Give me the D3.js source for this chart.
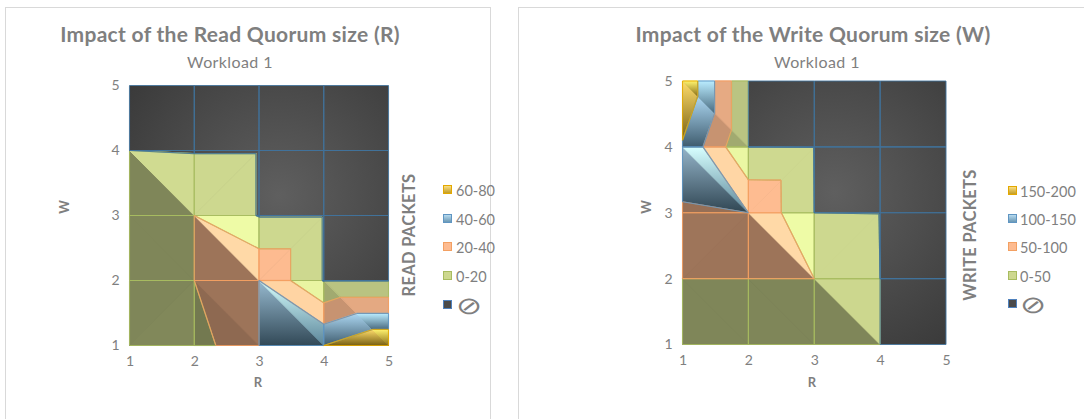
<!DOCTYPE html>
<html>
<head>
<meta charset="utf-8">
<script src="https://cdn.jsdelivr.net/npm/d3@7"></script>
<style>
  body { margin: 0; background: #ffffff; }
  svg { display: block; }
  text { font-family: Lato, "Open Sans", sans-serif; }
</style>
</head>
<body>
<svg id="chart" width="1084" height="419"></svg>
<script>
// ---- data -------------------------------------------------------------
// Quorum sizes on both axes (R horizontally, W vertically)
const quorumSizes = [1, 2, 3, 4, 5];

// Read packets, one row per W (1..5), one column per R (1..5).
// null = configuration not available (drawn as the "⊘" band)
const readPackets = [
  [0, 10, 40, 60, 80],
  [0, 20, 40, null, null],
  [0, 20, null, null, null],
  [0, null, null, null, null],
  [null, null, null, null, null]
];

// Write packets, same layout
const writePackets = [
  [0, 0, 0, 0, null],
  [50, 50, 50, 0, null],
  [91, 100, 0, null, null],
  [145, 0, null, null, null],
  [195, 0, null, null, null]
];

const readBreaks = [0, 20, 40, 60, 80];
const writeBreaks = [0, 50, 100, 150, 200];
const readBandLabels = ["0-20", "20-40", "40-60", "60-80"];
const writeBandLabels = ["0-50", "50-100", "100-150", "150-200"];
const unavailableLabel = "\u2298";

// ---- styling ----------------------------------------------------------
const UNAVAILABLE = -1;              // surface height used for missing cells
const LIGHT = [0.511, 0.511, 0.69];  // light direction (R, W, up)
const bandFills = ["#cdd88f", "#fdbb90", "#86c4ea", "#ffcc2a"];
const bandStrokes = ["#a8bc60", "#f3a062", "#5f95c2", "#e3a800"];
const gradientBands = [false, false, true, true];
const naStroke = "#41739c";
const textGray = "#7f7f7f";

const svg = d3.select("#chart");
const defs = svg.append("defs");

function shadeFactor(dot) {
  const d = Math.max(0, Math.min(1, dot));
  return 0.574 - 0.207 * d + 0.8345 * d * d;
}
function scaleColor(hex, k) {
  const c = d3.rgb(hex);
  return d3.rgb(Math.min(255, c.r * k), Math.min(255, c.g * k), Math.min(255, c.b * k)).formatHex();
}
function mixWhite(hex, t) {
  return d3.interpolateRgb(hex, "#ffffff")(t);
}
// Sutherland-Hodgman clip of a polygon against f(p) >= 0, interpolating values
function clip(poly, f) {
  const out = [];
  for (let i = 0; i < poly.length; i++) {
    const p = poly[i], q = poly[(i + 1) % poly.length];
    const fp = f(p), fq = f(q);
    if (fp >= 0) out.push(p);
    if ((fp > 0 && fq < 0) || (fp < 0 && fq > 0)) {
      const t = fp / (fp - fq);
      out.push({ x: p.x + t * (q.x - p.x), y: p.y + t * (q.y - p.y), v: p.v + t * (q.v - p.v) });
    }
  }
  return out;
}
function area(poly) {
  let s = 0;
  for (let i = 0; i < poly.length; i++) {
    const p = poly[i], q = poly[(i + 1) % poly.length];
    s += p.x * q.y - q.x * p.y;
  }
  return s / 2;
}
function onLine(p, a, b) {
  return Math.abs((b.x - a.x) * (p.y - a.y) - (b.y - a.y) * (p.x - a.x)) < 1e-6;
}

let gradCount = 0;

function drawChart(cfg) {
  const g = svg.append("g");
  const P = cfg.plot;

  g.append("rect")
    .attr("x", cfg.frame.x + 0.5).attr("y", cfg.frame.y + 0.5)
    .attr("width", cfg.frame.w).attr("height", cfg.frame.h)
    .attr("fill", "#ffffff").attr("stroke", "#d9d9d9").attr("stroke-width", 1);

  const x = d3.scaleLinear().domain([1, 5]).range([P.left, P.right]);
  const y = d3.scaleLinear().domain([1, 5]).range([P.bottom, P.top]);

  // radial fill of the unavailable band, laid under the whole surface
  const naId = "na-" + cfg.id;
  const rg = defs.append("radialGradient").attr("id", naId)
    .attr("gradientUnits", "userSpaceOnUse")
    .attr("cx", (P.left + P.right) / 2 + 20).attr("cy", (P.top + P.bottom) / 2 - 20)
    .attr("r", (P.right - P.left) * 0.8);
  rg.append("stop").attr("offset", 0).attr("stop-color", "#5f5f5f");
  rg.append("stop").attr("offset", 1).attr("stop-color", "#363636");
  g.append("rect")
    .attr("x", x(1)).attr("y", y(5))
    .attr("width", x(5) - x(1)).attr("height", y(1) - y(5))
    .attr("fill", `url(#${naId})`);

  const step = cfg.breaks[1] - cfg.breaks[0];
  const zs = 1 / (2 * step);
  const bands = [{ lo: -Infinity, hi: cfg.breaks[0], na: true }];
  cfg.breaks.slice(0, -1).forEach((b, i) => {
    bands.push({ lo: b, hi: i === cfg.breaks.length - 2 ? Infinity : cfg.breaks[i + 1], idx: i });
  });

  const val = (i, j) => { const v = cfg.grid[j][i]; return v == null ? UNAVAILABLE : v; };
  const pt = (i, j) => ({ x: quorumSizes[i], y: quorumSizes[j], v: val(i, j) });

  // split each grid cell into two planar triangles along the higher diagonal
  const triangles = [];
  for (let j = 0; j < quorumSizes.length - 1; j++) {
    for (let i = 0; i < quorumSizes.length - 1; i++) {
      const a = pt(i, j), b = pt(i + 1, j), c = pt(i + 1, j + 1), d = pt(i, j + 1);
      if ((a.v + c.v) / 2 > (d.v + b.v) / 2) {
        triangles.push({ pts: [a, b, c], diag: [a, c] }, { pts: [a, c, d], diag: [a, c] });
      } else {
        triangles.push({ pts: [d, a, b], diag: [d, b] }, { pts: [d, b, c], diag: [d, b] });
      }
    }
  }
  triangles.forEach(t => {
    const [p0, p1, p2] = t.pts;
    const e1 = [p1.x - p0.x, p1.y - p0.y, (p1.v - p0.v) * zs];
    const e2 = [p2.x - p0.x, p2.y - p0.y, (p2.v - p0.v) * zs];
    let n = [e1[1] * e2[2] - e1[2] * e2[1], e1[2] * e2[0] - e1[0] * e2[2], e1[0] * e2[1] - e1[1] * e2[0]];
    if (n[2] < 0) n = n.map(c => -c);
    const len = Math.hypot(n[0], n[1], n[2]);
    t.shade = shadeFactor((n[0] * LIGHT[0] + n[1] * LIGHT[1] + n[2] * LIGHT[2]) / len);
  });

  const line = d3.line().x(p => x(p.x)).y(p => y(p.y));
  const fills = g.append("g");
  const segs = [];

  bands.forEach((band, bi) => {
    triangles.forEach(t => {
      let poly = t.pts;
      if (band.lo > -Infinity) poly = clip(poly, p => p.v - band.lo);
      if (band.hi < Infinity) poly = clip(poly, p => band.hi - p.v);
      if (poly.length < 3 || Math.abs(area(poly)) < 1e-7) return;

      if (!band.na) {
        const base = scaleColor(bandFills[band.idx], t.shade);
        let fill = base;
        if (gradientBands[band.idx]) {
          const id = "pg" + (gradCount++);
          const lg = defs.append("linearGradient").attr("id", id)
            .attr("x1", 0).attr("y1", 0).attr("x2", 0).attr("y2", 1);
          lg.append("stop").attr("offset", 0).attr("stop-color", scaleColor(mixWhite(base, 0.25), 1.2));
          lg.append("stop").attr("offset", 1).attr("stop-color", scaleColor(base, 0.6));
          fill = `url(#${id})`;
        }
        fills.append("path")
          .attr("d", line(poly) + "Z")
          .attr("fill", fill)
          .attr("stroke", fill)
          .attr("stroke-width", 1)
          .attr("stroke-linejoin", "round");
      }

      for (let k = 0; k < poly.length; k++) {
        const A = poly[k], B = poly[(k + 1) % poly.length];
        if (Math.hypot(A.x - B.x, A.y - B.y) < 1e-6) continue;
        if (onLine(A, t.diag[0], t.diag[1]) && onLine(B, t.diag[0], t.diag[1])) continue;
        segs.push({ A, B, color: band.na ? naStroke : bandStrokes[band.idx], order: band.na ? 99 : bi });
      }
    });
  });

  segs.sort((s1, s2) => s1.order - s2.order);
  g.append("g").selectAll("line").data(segs).join("line")
    .attr("x1", s => x(s.A.x)).attr("y1", s => y(s.A.y))
    .attr("x2", s => x(s.B.x)).attr("y2", s => y(s.B.y))
    .attr("stroke", s => s.color)
    .attr("stroke-width", 1.1)
    .attr("stroke-opacity", 0.85);

  // axes
  const fmt = d3.format("d");
  g.append("g")
    .attr("transform", `translate(0,${P.bottom})`)
    .call(d3.axisBottom(x).tickValues(quorumSizes).tickFormat(fmt).tickSize(0).tickPadding(11))
    .call(a => a.select(".domain").remove())
    .call(a => a.selectAll("text").attr("fill", textGray).attr("font-size", 14).attr("font-family", "Lato"));
  g.append("g")
    .attr("transform", `translate(${P.left},0)`)
    .call(d3.axisLeft(y).tickValues(quorumSizes).tickFormat(fmt).tickSize(0).tickPadding(10))
    .call(a => a.select(".domain").remove())
    .call(a => a.selectAll("text").attr("fill", textGray).attr("font-size", 14).attr("font-family", "Lato"));

  g.append("text").attr("x", cfg.xTitle[0]).attr("y", cfg.xTitle[1])
    .attr("text-anchor", "middle").attr("fill", textGray)
    .attr("font-size", 13).attr("font-weight", "bold").text("R");
  g.append("text")
    .attr("transform", `translate(${cfg.yTitle[0]},${cfg.yTitle[1]}) rotate(-90)`)
    .attr("text-anchor", "middle").attr("fill", textGray)
    .attr("font-size", 13).attr("font-weight", "bold").text("W");

  // titles
  g.append("text").attr("x", cfg.titlePos[0]).attr("y", cfg.titlePos[1])
    .attr("text-anchor", "middle").attr("fill", textGray)
    .attr("font-size", 21).attr("letter-spacing", 0.3).attr("font-weight", "bold").text(cfg.title);
  g.append("text").attr("x", cfg.subtitlePos[0]).attr("y", cfg.subtitlePos[1])
    .attr("text-anchor", "middle").attr("fill", textGray)
    .attr("font-size", 16).attr("letter-spacing", 0.4).text(cfg.subtitle);

  // legend
  const L = cfg.legend;
  g.append("text")
    .attr("transform", `translate(${L.titleX},${L.titleY}) rotate(-90)`)
    .attr("text-anchor", "middle").attr("dominant-baseline", "central")
    .attr("fill", textGray).attr("font-size", 16.5).attr("letter-spacing", 0.3).attr("font-weight", "bold")
    .text(cfg.legendTitle);

  const entries = cfg.labels.map((lab, i) => ({ lab, idx: i })).reverse();
  entries.push({ lab: unavailableLabel, na: true });
  entries.forEach((e, k) => {
    const cy = L.rows[k];
    const sw = g.append("rect")
      .attr("x", L.swatchX + 0.5).attr("y", cy - 4.5)
      .attr("width", 8).attr("height", 8)
      .attr("stroke-width", 1);
    if (e.na) {
      sw.attr("fill", "#4a4a4a").attr("stroke", "#4f81bd");
    } else {
      if (gradientBands[e.idx]) {
        const id = "lg-" + cfg.id + e.idx;
        const lg = defs.append("linearGradient").attr("id", id).attr("x1", 0).attr("y1", 0).attr("x2", 0).attr("y2", 1);
        lg.append("stop").attr("offset", 0).attr("stop-color", mixWhite(bandFills[e.idx], 0.45));
        lg.append("stop").attr("offset", 1).attr("stop-color", scaleColor(bandFills[e.idx], 0.75));
        sw.attr("fill", `url(#${id})`);
      } else {
        sw.attr("fill", bandFills[e.idx]);
      }
      sw.attr("stroke", bandStrokes[e.idx]);
    }
    const t = g.append("text")
      .attr("fill", textGray)
      .text(e.lab);
    if (e.na) {
      t.attr("transform", `translate(${L.textX},${cy}) scale(1.3,1)`)
        .attr("dominant-baseline", "central")
        .attr("font-size", 24).attr("font-family", "DejaVu Sans");
    } else {
      t.attr("x", L.textX).attr("y", cy)
        .attr("dominant-baseline", "central")
        .attr("font-size", 14.5);
    }
  });
}

drawChart({
  id: "read",
  grid: readPackets,
  breaks: readBreaks,
  labels: readBandLabels,
  title: "Impact of the Read Quorum size (R)",
  subtitle: "Workload 1",
  legendTitle: "READ PACKETS",
  frame: { x: 5, y: 7, w: 485, h: 430 },
  plot: { left: 129.5, right: 388.5, top: 85.5, bottom: 345.5 },
  titlePos: [230, 42],
  subtitlePos: [230, 68],
  xTitle: [258, 387],
  yTitle: [69, 207],
  legend: { titleX: 409, titleY: 235, swatchX: 443, textX: 456, rows: [190, 219, 247, 276, 305] }
});

drawChart({
  id: "write",
  grid: writePackets,
  breaks: writeBreaks,
  labels: writeBandLabels,
  title: "Impact of the Write Quorum size (W)",
  subtitle: "Workload 1",
  legendTitle: "WRITE PACKETS",
  frame: { x: 518, y: 7, w: 580, h: 430 },
  plot: { left: 682.5, right: 946, top: 81, bottom: 344.5 },
  titlePos: [813, 42],
  subtitlePos: [817, 68],
  xTitle: [812, 387],
  yTitle: [651, 207],
  legend: { titleX: 970, titleY: 235, swatchX: 1008, textX: 1020, rows: [191, 219, 247, 276, 304] }
});
</script>
</body>
</html>
